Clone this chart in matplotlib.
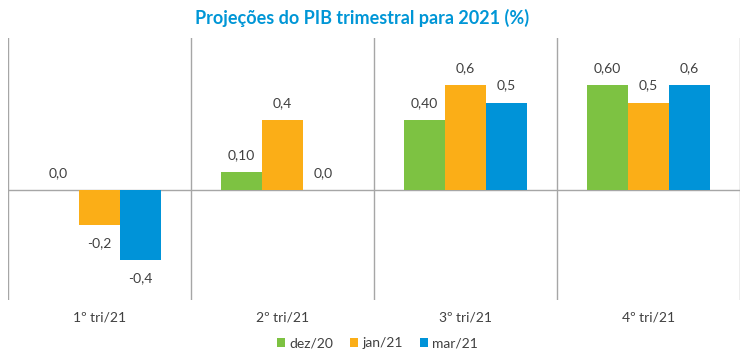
import matplotlib.pyplot as plt
import numpy as np

plt.rcParams['font.family'] = ['Lato', 'DejaVu Sans']

# data
categories = ['1º tri/21', '2º tri/21', '3º tri/21', '4º tri/21']
series = ['dez/20', 'jan/21', 'mar/21']
dez20 = [0.0, 0.10, 0.40, 0.60]
jan21 = [-0.2, 0.4, 0.6, 0.5]
mar21 = [-0.4, 0.0, 0.5, 0.6]
labels_dez20 = ['0,0', '0,10', '0,40', '0,60']
labels_jan21 = ['-0,2', '0,4', '0,6', '0,5']
labels_mar21 = ['-0,4', '0,0', '0,5', '0,6']

colors = ['#7DC242', '#FBAE17', '#0093D8']
txt = '#404040'

fig = plt.figure(figsize=(7.5, 3.55), dpi=100)
ax = fig.add_axes([8/750, 1 - 300/355, 732/750, 262/355])

x = np.arange(len(categories))
width = 0.224
all_vals = [dez20, jan21, mar21]
all_labels = [labels_dez20, labels_jan21, labels_mar21]

for i, (vals, labs) in enumerate(zip(all_vals, all_labels)):
    pos = x + (i - 1) * width
    ax.bar(pos, vals, width, color=colors[i], label=series[i], zorder=3)
    for px, v, lb in zip(pos, vals, labs):
        if v < 0:
            ax.annotate(lb, (px, v), xytext=(0, -9), textcoords='offset points',
                        ha='center', va='top', fontsize=10, color=txt)
        else:
            ax.annotate(lb, (px, v), xytext=(0, 8), textcoords='offset points',
                        ha='center', va='bottom', fontsize=10, color=txt)

ax.set_xlim(-0.5, len(categories) - 0.5)
ax.set_ylim(-0.629, 0.869)

# vertical separators between categories
for b in np.arange(-0.5, len(categories), 1.0):
    ax.axvline(b, color='#a6a6a6', lw=1, zorder=1)
ax.axhline(0, color='#a6a6a6', lw=1, zorder=2)

for s in ax.spines.values():
    s.set_visible(False)
ax.set_yticks([])
ax.set_xticks(x)
ax.set_xticklabels(categories, fontsize=10, color=txt)
ax.tick_params(axis='x', length=0, pad=8)

fig.suptitle('Projeções do PIB trimestral para 2021 (%)', x=0.483, y=0.975,
             fontsize=13, fontweight='bold', color='#0096D6')

ax.legend(loc='upper center', bbox_to_anchor=(0.505, -0.095), ncol=3, frameon=False,
          fontsize=10, handlelength=0.6, handleheight=0.6, handletextpad=0.3,
          columnspacing=1.2, labelcolor=txt)

fig.savefig('out.png', dpi=100)
